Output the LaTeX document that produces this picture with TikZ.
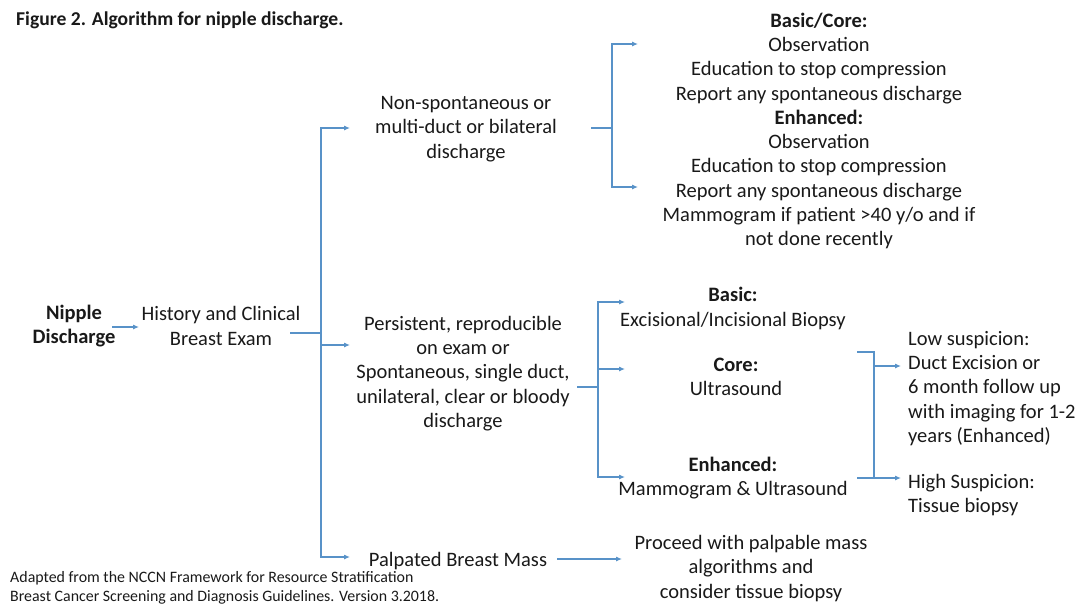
\documentclass[tikz,border=0pt]{standalone}
\usepackage{fontspec}
\setmainfont{Carlito}
\usetikzlibrary{arrows.meta}
\definecolor{conn}{RGB}{88,146,200}
\definecolor{ink}{RGB}{25,25,25}
\begin{document}
\begin{tikzpicture}[x=1pt,y=-1pt,
  every node/.style={inner sep=0pt,text=ink},
  tc/.style={font=\fontsize{20.5}{24.3}\selectfont,align=center},
  tl/.style={font=\fontsize{20.5}{24.3}\selectfont,align=left,anchor=west},
  ln/.style={draw=conn,line width=1.1pt},
  arr/.style={ln,-{Latex[length=6pt,width=5pt]}}]
\useasboundingbox (0,0) rectangle (1077,605);

% title and footer
\node[font=\fontsize{19.6}{22}\selectfont\bfseries,anchor=west] (title) at (16,20) {Figure 2. Algorithm for nipple discharge.};
\node[font=\fontsize{15.9}{19}\selectfont,align=left,anchor=west] (foot) at (10,587.5) {Adapted from the NCCN Framework for Resource Stratification\\Breast Cancer Screening and Diagnosis Guidelines. Version 3.2018.};

% nodes
\node[tc,font=\fontsize{20.5}{24.3}\selectfont\bfseries] (nd) at (74,326) {Nipple\\Discharge};
\node[tc] (hce) at (221,326) {History and Clinical\\Breast Exam};
\node[tc] (ns) at (466,129) {Non-spontaneous or\\multi-duct or bilateral\\discharge};
\node[tc] (obs) at (819,131) {\textbf{Basic/Core:}\\Observation\\Education to stop compression\\Report any spontaneous discharge\\\textbf{Enhanced:}\\Observation\\Education to stop compression\\Report any spontaneous discharge\\Mammogram if patient >40 y/o and if\\not done recently};
\node[tc] (pr) at (463,373.5) {Persistent, reproducible\\on exam or\\Spontaneous, single duct,\\unilateral, clear or bloody\\discharge};
\node[tc] (basic) at (733,308.5) {\textbf{Basic:}\\Excisional/Incisional Biopsy};
\node[tc] (core) at (736,377) {\textbf{Core:}\\Ultrasound};
\node[tc] (enh) at (733,478) {\textbf{Enhanced:}\\Mammogram \& Ultrasound};
\node[tl] (low) at (908,388.5) {Low suspicion:\\Duct Excision or\\6 month follow up\\with imaging for 1-2\\years (Enhanced)};
\node[tl] (high) at (908,495) {High Suspicion:\\Tissue biopsy};
\node[tc] (pal) at (458,561) {Palpated Breast Mass};
\node[tc] (proc) at (751,568.5) {Proceed with palpable mass\\algorithms and\\consider tissue biopsy};

% junction coordinates
\coordinate (hx) at (290,333);
\coordinate (v1) at (321,333);
\coordinate (a1) at (350,128);
\coordinate (a2) at (350,345);
\coordinate (a3) at (350,557);
\coordinate (n1) at (591,128);
\coordinate (v2) at (612,128);
\coordinate (a4) at (638,44);
\coordinate (a5) at (638,187);
\coordinate (p1) at (577,387);
\coordinate (v3) at (598,387);
\coordinate (a6) at (625,302);
\coordinate (a7) at (625,369);
\coordinate (a8) at (625,477);
\coordinate (q1) at (857,352);
\coordinate (q2) at (857,478);
\coordinate (r1) at (874,352);
\coordinate (r2) at (874,478);
\coordinate (a9) at (901,366);
\coordinate (a10) at (901,478);
\coordinate (m1) at (557,559);
\coordinate (m2) at (622,559);
\coordinate (d1) at (112,327);
\coordinate (d2) at (139,327);

% connectors
\draw[arr] (d1) -- (d2);
\draw[ln] (hx) -- (v1);
\draw[arr] (v1) |- (a1);
\draw[arr] (v1) |- (a2);
\draw[arr] (v1) |- (a3);
\draw[ln] (n1) -- (v2);
\draw[arr] (v2) |- (a4);
\draw[arr] (v2) |- (a5);
\draw[ln] (p1) -- (v3);
\draw[arr] (v3) |- (a6);
\draw[arr] (v3) |- (a7);
\draw[arr] (v3) |- (a8);
\draw[ln] (q1) -- (r1) -- (r2);
\draw[ln] (q2) -- (r2);
\draw[arr] (r1 |- a9) -- (a9);
\draw[arr] (r2) -- (a10);
\draw[arr] (m1) -- (m2);
\end{tikzpicture}
\end{document}
